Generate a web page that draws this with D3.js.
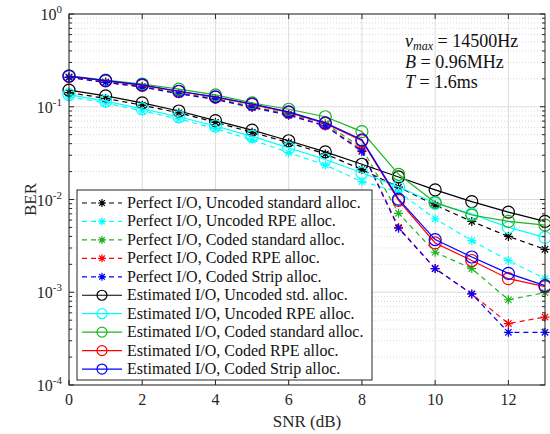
<!DOCTYPE html>
<html>
<head>
<meta charset="utf-8">
<script src="https://cdn.jsdelivr.net/npm/d3@7"></script>
<style>
  body { margin: 0; background: #fff; }
  svg { font-family: "Liberation Serif", "DejaVu Serif", serif; }
</style>
</head>
<body>
<svg id="chart" width="550" height="434"></svg>
<script>
// BER vs SNR -- perfect vs estimated I/O

var snr = [0, 1, 2, 3, 4, 5, 6, 7, 8, 9, 10, 11, 12, 13];
var xTicks = [0, 2, 4, 6, 8, 10, 12];
var yDecades = [-4, -3, -2, -1, 0];

var perfUncodedStd = [0.142, 0.123, 0.104, 0.086, 0.068, 0.053, 0.041, 0.031, 0.021, 0.0136, 0.0087, 0.0058, 0.0040, 0.0029];
var perfUncodedRpe = [0.128, 0.110, 0.090, 0.074, 0.058, 0.044, 0.032, 0.0235, 0.0156, 0.0121, 0.0062, 0.0036, 0.0022, 0.0014];
var perfCodedStd   = [0.210, 0.186, 0.166, 0.141, 0.123, 0.101, 0.084, 0.066, 0.036, 0.0071, 0.0027, 0.0018, 0.00083, 0.00099];
var perfCodedRpe   = [0.208, 0.184, 0.164, 0.139, 0.121, 0.099, 0.082, 0.063, 0.034, 0.0050, 0.0018, 0.00096, 0.00046, 0.00054];
var perfCodedStrip = [0.207, 0.183, 0.163, 0.138, 0.120, 0.098, 0.081, 0.062, 0.033, 0.0049, 0.0018, 0.00096, 0.00037, 0.00037];
var estUncodedStd  = [0.151, 0.131, 0.110, 0.090, 0.071, 0.056, 0.043, 0.0326, 0.024, 0.0175, 0.0127, 0.0095, 0.0073, 0.0058];
var estUncodedRpe  = [0.135, 0.115, 0.095, 0.078, 0.062, 0.048, 0.036, 0.027, 0.0194, 0.0137, 0.0091, 0.0070, 0.0050, 0.0039];
var estCodedStd    = [0.216, 0.194, 0.176, 0.155, 0.134, 0.110, 0.094, 0.078, 0.054, 0.0187, 0.0093, 0.0068, 0.0058, 0.0053];
var estCodedRpe    = [0.213, 0.190, 0.170, 0.146, 0.127, 0.106, 0.087, 0.066, 0.043, 0.0098, 0.0034, 0.0022, 0.0014, 0.00115];
var estCodedStrip  = [0.214, 0.191, 0.172, 0.147, 0.128, 0.107, 0.088, 0.067, 0.044, 0.0101, 0.0037, 0.0024, 0.0016, 0.00118];

var series = [
  { name: "Perfect I/O, Uncoded standard alloc.", color: "#000000", dashed: true,  marker: "star",   values: perfUncodedStd },
  { name: "Perfect I/O, Uncoded RPE alloc.",      color: "#00ffff", dashed: true,  marker: "star",   values: perfUncodedRpe },
  { name: "Perfect I/O, Coded standard alloc.",   color: "#1fb41f", dashed: true,  marker: "star",   values: perfCodedStd },
  { name: "Perfect I/O, Coded RPE alloc.",        color: "#ff0000", dashed: true,  marker: "star",   values: perfCodedRpe },
  { name: "Perfect I/O, Coded Strip alloc.",      color: "#0000ff", dashed: true,  marker: "star",   values: perfCodedStrip },
  { name: "Estimated I/O, Uncoded std. alloc.",   color: "#000000", dashed: false, marker: "circle", values: estUncodedStd },
  { name: "Estimated I/O, Uncoded RPE alloc.",    color: "#00ffff", dashed: false, marker: "circle", values: estUncodedRpe },
  { name: "Estimated I/O, Coded standard alloc.", color: "#1fb41f", dashed: false, marker: "circle", values: estCodedStd },
  { name: "Estimated I/O, Coded RPE alloc.",      color: "#ff0000", dashed: false, marker: "circle", values: estCodedRpe },
  { name: "Estimated I/O, Coded Strip alloc.",    color: "#0000ff", dashed: false, marker: "circle", values: estCodedStrip }
];

var svg = d3.select("#chart");
var plotLeft = 69, plotRight = 545, plotTop = 14, plotBottom = 385;

var x = d3.scaleLinear().domain([0, 13]).range([plotLeft, plotRight]);
var y = d3.scaleLog().domain([1e-4, 1]).range([plotBottom, plotTop]);

// minor values for log grid
var minors = [];
yDecades.slice(0, -1).forEach(function (d) {
  for (var k = 2; k <= 9; k++) minors.push(k * Math.pow(10, d));
});

///////////////////////////////////////////////////////////////////////////////
// Grid

var grid = svg.append("g");
grid.selectAll("line.minor").data(minors).enter().append("line")
  .attr("x1", plotLeft).attr("x2", plotRight)
  .attr("y1", function (d) { return y(d); }).attr("y2", function (d) { return y(d); })
  .attr("stroke", "#d0d0d0").attr("stroke-width", 0.8).attr("stroke-dasharray", "1,2");
grid.selectAll("line.ymaj").data(yDecades).enter().append("line")
  .attr("x1", plotLeft).attr("x2", plotRight)
  .attr("y1", function (d) { return y(Math.pow(10, d)); }).attr("y2", function (d) { return y(Math.pow(10, d)); })
  .attr("stroke", "#dcdcdc").attr("stroke-width", 1);
grid.selectAll("line.xmaj").data(xTicks).enter().append("line")
  .attr("x1", function (d) { return x(d); }).attr("x2", function (d) { return x(d); })
  .attr("y1", plotTop).attr("y2", plotBottom)
  .attr("stroke", "#dcdcdc").attr("stroke-width", 1);

///////////////////////////////////////////////////////////////////////////////
// Curves

var line = d3.line()
  .x(function (d, i) { return x(snr[i]); })
  .y(function (d) { return y(d); });

var starPath = function (s) {
  var a = s * 0.707;
  return "M" + (-s) + ",0H" + s + "M0," + (-s) + "V" + s +
    "M" + (-a) + "," + (-a) + "L" + a + "," + a +
    "M" + (-a) + "," + a + "L" + a + "," + (-a);
};

var drawMarker = function (g, s, cx, cy) {
  if (s.marker === "circle") {
    g.append("circle").attr("cx", cx).attr("cy", cy).attr("r", 6)
      .attr("fill", "none").attr("stroke", s.color).attr("stroke-width", 1.2);
  } else {
    g.append("path").attr("transform", "translate(" + cx + "," + cy + ")")
      .attr("d", starPath(4.5))
      .attr("fill", "none").attr("stroke", s.color).attr("stroke-width", 1.2);
  }
};

var plot = svg.append("g");
series.forEach(function (s) {
  var g = plot.append("g");
  g.append("path").datum(s.values)
    .attr("d", line)
    .attr("fill", "none")
    .attr("stroke", s.color)
    .attr("stroke-width", 1.2)
    .attr("stroke-dasharray", s.dashed ? "5,4" : null);
  s.values.forEach(function (v, i) {
    drawMarker(g, s, x(snr[i]), y(v));
  });
});

///////////////////////////////////////////////////////////////////////////////
// Axes (box with inward ticks)

var axes = svg.append("g").attr("stroke", "#262626").attr("stroke-width", 1);
axes.append("rect").attr("x", plotLeft).attr("y", plotTop)
  .attr("width", plotRight - plotLeft).attr("height", plotBottom - plotTop).attr("fill", "none");

xTicks.forEach(function (t) {
  axes.append("line").attr("x1", x(t)).attr("x2", x(t)).attr("y1", plotBottom).attr("y2", plotBottom - 5);
  axes.append("line").attr("x1", x(t)).attr("x2", x(t)).attr("y1", plotTop).attr("y2", plotTop + 5);
});
yDecades.forEach(function (d) {
  var yy = y(Math.pow(10, d));
  axes.append("line").attr("x1", plotLeft).attr("x2", plotLeft + 5).attr("y1", yy).attr("y2", yy);
  axes.append("line").attr("x1", plotRight).attr("x2", plotRight - 5).attr("y1", yy).attr("y2", yy);
});
minors.forEach(function (m) {
  var yy = y(m);
  axes.append("line").attr("x1", plotLeft).attr("x2", plotLeft + 3).attr("y1", yy).attr("y2", yy);
  axes.append("line").attr("x1", plotRight).attr("x2", plotRight - 3).attr("y1", yy).attr("y2", yy);
});

var labels = svg.append("g").attr("fill", "#262626").attr("font-size", 16);
labels.selectAll("text.xt").data(xTicks).enter().append("text")
  .attr("x", function (d) { return x(d); })
  .attr("y", plotBottom + 20)
  .attr("text-anchor", "middle")
  .text(function (d) { return d; });

yDecades.forEach(function (d) {
  var t = labels.append("text")
    .attr("x", plotLeft - 7)
    .attr("y", y(Math.pow(10, d)) + 6)
    .attr("text-anchor", "end");
  t.append("tspan").text("10");
  t.append("tspan").attr("dy", -7).attr("font-size", 11).text(d);
});

labels.append("text")
  .attr("x", x(6.5)).attr("y", 427)
  .attr("text-anchor", "middle")
  .attr("font-size", 17)
  .text("SNR (dB)");

labels.append("text")
  .attr("transform", "translate(36," + y(0.01) + ") rotate(-90)")
  .attr("text-anchor", "middle")
  .attr("font-size", 17)
  .text("BER");

///////////////////////////////////////////////////////////////////////////////
// Annotation

var note = svg.append("g").attr("fill", "#111").attr("font-size", 18);
var n1 = note.append("text").attr("x", 405).attr("y", 47);
n1.append("tspan").attr("font-style", "italic").text("\u03bd");
n1.append("tspan").attr("font-style", "italic").attr("font-size", 12).attr("dy", 3).text("max");
n1.append("tspan").attr("dy", -3).text(" = 14500Hz");
var n2 = note.append("text").attr("x", 405).attr("y", 67.5);
n2.append("tspan").attr("font-style", "italic").text("B");
n2.append("tspan").text(" = 0.96MHz");
var n3 = note.append("text").attr("x", 405).attr("y", 88);
n3.append("tspan").attr("font-style", "italic").text("T");
n3.append("tspan").text(" = 1.6ms");

///////////////////////////////////////////////////////////////////////////////
// Legend

var legend = svg.append("g");
legend.append("rect")
  .attr("x", 77).attr("y", 190).attr("width", 295).attr("height", 190)
  .attr("fill", "#fff").attr("stroke", "#262626").attr("stroke-width", 1);

series.forEach(function (s, i) {
  var ly = 203 + i * 18.45;
  var g = legend.append("g");
  g.append("line").attr("x1", 82).attr("x2", 122).attr("y1", ly).attr("y2", ly)
    .attr("stroke", s.color).attr("stroke-width", 1.2)
    .attr("stroke-dasharray", s.dashed ? "5,4" : null);
  if (s.marker === "circle") {
    g.append("circle").attr("cx", 102).attr("cy", ly).attr("r", 5)
      .attr("fill", "none").attr("stroke", s.color).attr("stroke-width", 1.2);
  } else {
    g.append("path").attr("transform", "translate(102," + ly + ")")
      .attr("d", starPath(4)).attr("fill", "none")
      .attr("stroke", s.color).attr("stroke-width", 1.2);
  }
  g.append("text").attr("x", 127).attr("y", ly + 5)
    .attr("font-size", 16).attr("fill", "#111")
    .text(s.name);
});
</script>
</body>
</html>
